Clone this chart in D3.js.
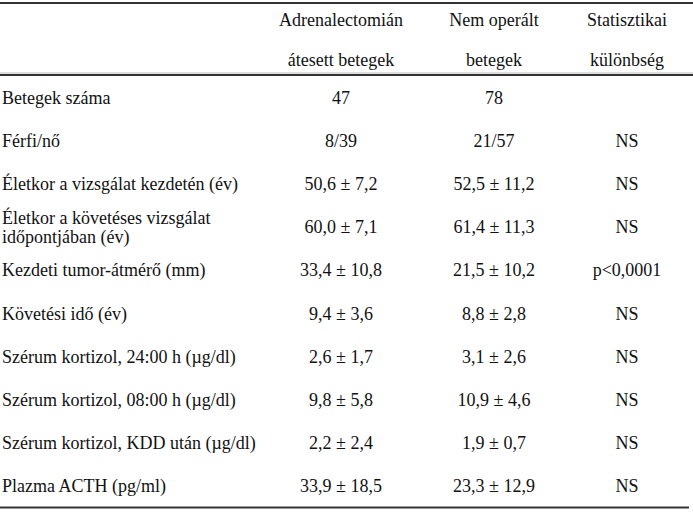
<!DOCTYPE html>
<html><head><meta charset="utf-8">
<script src="https://cdn.jsdelivr.net/npm/d3@7"></script>
<style>body{margin:0;background:#fff}svg{display:block}text{font-family:"Liberation Serif","Times New Roman",serif;font-size:18px;fill:#111}</style>
</head><body><svg id="c" width="693" height="513"></svg>
<script>
const columns = ["label", "adrenal", "nonop", "stat"];
const headerLine1 = ["", "Adrenalectomián", "Nem operált", "Statisztikai"];
const headerLine2 = ["", "átesett betegek", "betegek", "különbség"];
const rowLabels = [
  ["Betegek száma"],
  ["Férfi/nő"],
  ["Életkor a vizsgálat kezdetén (év)"],
  ["Életkor a követéses vizsgálat", "időpontjában (év)"],
  ["Kezdeti tumor-átmérő (mm)"],
  ["Követési idő (év)"],
  ["Szérum kortizol, 24:00 h (µg/dl)"],
  ["Szérum kortizol, 08:00 h (µg/dl)"],
  ["Szérum kortizol, KDD után (µg/dl)"],
  ["Plazma ACTH (pg/ml)"]
];
const adrenalValues = ["47", "8/39", "50,6 ± 7,2", "60,0 ± 7,1", "33,4 ± 10,8", "9,4 ± 3,6", "2,6 ± 1,7", "9,8 ± 5,8", "2,2 ± 2,4", "33,9 ± 18,5"];
const nonopValues = ["78", "21/57", "52,5 ± 11,2", "61,4 ± 11,3", "21,5 ± 10,2", "8,8 ± 2,8", "3,1 ± 2,6", "10,9 ± 4,6", "1,9 ± 0,7", "23,3 ± 12,9"];
const statValues = ["", "NS", "NS", "NS", "p<0,0001", "NS", "NS", "NS", "NS", "NS"];

const svg = d3.select("#c");
const x = d3.scaleOrdinal().domain(columns).range([2, 341, 494, 627]);
const y = d3.scalePoint().domain(d3.range(rowLabels.length)).range([98, 486]);
const hy = d3.scaleOrdinal().domain([1, 2]).range([20, 60]);

// rules
svg.append("line").attr("x1", 0).attr("x2", 693).attr("y1", 3).attr("y2", 3).attr("stroke", "#333").attr("stroke-width", 2);
svg.append("line").attr("x1", 0).attr("x2", 693).attr("y1", 73).attr("y2", 73).attr("stroke", "#bbb").attr("stroke-width", 1);
svg.append("line").attr("x1", 0).attr("x2", 693).attr("y1", 75).attr("y2", 75).attr("stroke", "#333").attr("stroke-width", 2);
svg.append("line").attr("x1", 0).attr("x2", 689).attr("y1", 507.5).attr("y2", 507.5).attr("stroke", "#333").attr("stroke-width", 2);

// header
[headerLine1, headerLine2].forEach((line, li) => {
  svg.append("g").selectAll("text").data(line.slice(1)).join("text")
    .attr("x", (d, i) => x(columns[i + 1]))
    .attr("y", hy(li + 1))
    .attr("text-anchor", "middle")
    .attr("dominant-baseline", "central")
    .text(d => d);
});

// labels
const lg = svg.append("g").selectAll("g").data(rowLabels).join("g");
lg.selectAll("text").data((d, i) => d.map((t, j) => ({t, i, j, n: d.length}))).join("text")
  .attr("x", x("label"))
  .attr("y", d => y(d.i) + (d.j - (d.n - 1) / 2) * 19)
  .attr("dominant-baseline", "central")
  .text(d => d.t);

// values
[[adrenalValues, "adrenal"], [nonopValues, "nonop"], [statValues, "stat"]].forEach(([vals, col]) => {
  svg.append("g").selectAll("text").data(vals).join("text")
    .attr("x", x(col))
    .attr("y", (d, i) => y(i))
    .attr("text-anchor", "middle")
    .attr("dominant-baseline", "central")
    .text(d => d);
});
</script></body></html>
